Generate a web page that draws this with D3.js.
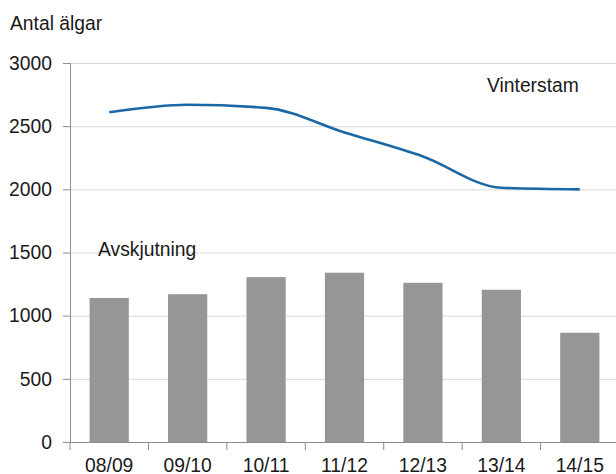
<!DOCTYPE html>
<html>
<head>
    <script src="https://d3js.org/d3.v7.min.js"></script>
    <style>
        body { margin: 0; background: #fff; }
        text { font-family: "Liberation Sans", Arial, sans-serif; fill: #1a1a1a; }
    </style>
</head>
<body>
    <svg width="616" height="474"></svg>
    <script>
        var seasons = ["08/09", "09/10", "10/11", "11/12", "12/13", "13/14", "14/15"];
        var avskjutning = [1140, 1170, 1305, 1340, 1260, 1205, 865];
        var vinterstam = [2610, 2670, 2645, 2450, 2260, 2012, 2000];
        var yTicks = [0, 500, 1000, 1500, 2000, 2500, 3000];

        var svg = d3.select("svg"),
            plotLeft = 70, plotRight = 619, plotTop = 63, plotBottom = 442,
            fontSize = "19.3px";

        var x = d3.scaleBand().domain(seasons).range([plotLeft, plotRight]).paddingInner(0.5).paddingOuter(0.25);
        var y = d3.scaleLinear().domain([0, 3000]).range([plotBottom, plotTop]);

        // gridlines
        svg.selectAll(".grid").data(yTicks.filter(function(d) { return d > 0; }))
            .enter().append("line")
            .attr("x1", plotLeft).attr("x2", 616)
            .attr("y1", function(d) { return y(d) + 0.5; })
            .attr("y2", function(d) { return y(d) + 0.5; })
            .attr("stroke", "#d9d9d9").attr("stroke-width", 1);

        // bars
        svg.selectAll(".bar").data(avskjutning)
            .enter().append("rect")
            .attr("class", "bar")
            .attr("x", function(d, i) { return x(seasons[i]); })
            .attr("y", function(d) { return y(d); })
            .attr("width", x.bandwidth())
            .attr("height", function(d) { return plotBottom - y(d); })
            .attr("fill", "#969696");

        // y axis
        var yAxis = svg.append("g")
            .attr("transform", "translate(" + plotLeft + ",0)")
            .call(d3.axisLeft(y).tickValues(yTicks).tickFormat(d3.format("d")).tickSize(7).tickPadding(11));
        yAxis.select(".domain").attr("stroke", "#8c8c8c");
        yAxis.selectAll(".tick line").attr("stroke", "#8c8c8c");
        yAxis.selectAll("text").style("font-size", fontSize).attr("fill", "#1a1a1a").style("font-family", "Liberation Sans, Arial, sans-serif");

        // x axis
        var xAxis = svg.append("g")
            .attr("transform", "translate(0," + plotBottom + ")");
        xAxis.append("line")
            .attr("x1", plotLeft - 7).attr("x2", 616)
            .attr("y1", 0.5).attr("y2", 0.5)
            .attr("stroke", "#8c8c8c");
        xAxis.selectAll(".xt").data(seasons)
            .enter().append("line")
            .attr("x1", function(d) { return x(d) - x.bandwidth() / 2; })
            .attr("x2", function(d) { return x(d) - x.bandwidth() / 2; })
            .attr("y1", 0).attr("y2", 8)
            .attr("stroke", "#8c8c8c");
        xAxis.selectAll(".xl").data(seasons)
            .enter().append("text")
            .attr("x", function(d) { return x(d) + x.bandwidth() / 2; })
            .attr("y", 29.5)
            .attr("text-anchor", "middle")
            .style("font-size", fontSize)
            .text(function(d) { return d; });

        // line
        var line = d3.line()
            .x(function(d, i) { return x(seasons[i]) + x.bandwidth() / 2; })
            .y(function(d) { return y(d); })
            .curve(d3.curveMonotoneX);
        svg.append("path")
            .datum(vinterstam)
            .attr("d", line)
            .attr("fill", "none")
            .attr("stroke", "#1c68a4")
            .attr("stroke-width", 2.6);

        // labels
        svg.append("text").attr("x", 10).attr("y", 30).style("font-size", fontSize).text("Antal älgar");
        svg.append("text").attr("x", 487).attr("y", 92).style("font-size", fontSize).text("Vinterstam");
        svg.append("text").attr("x", 98).attr("y", 256).style("font-size", fontSize).text("Avskjutning");
    </script>
</body>
</html>
